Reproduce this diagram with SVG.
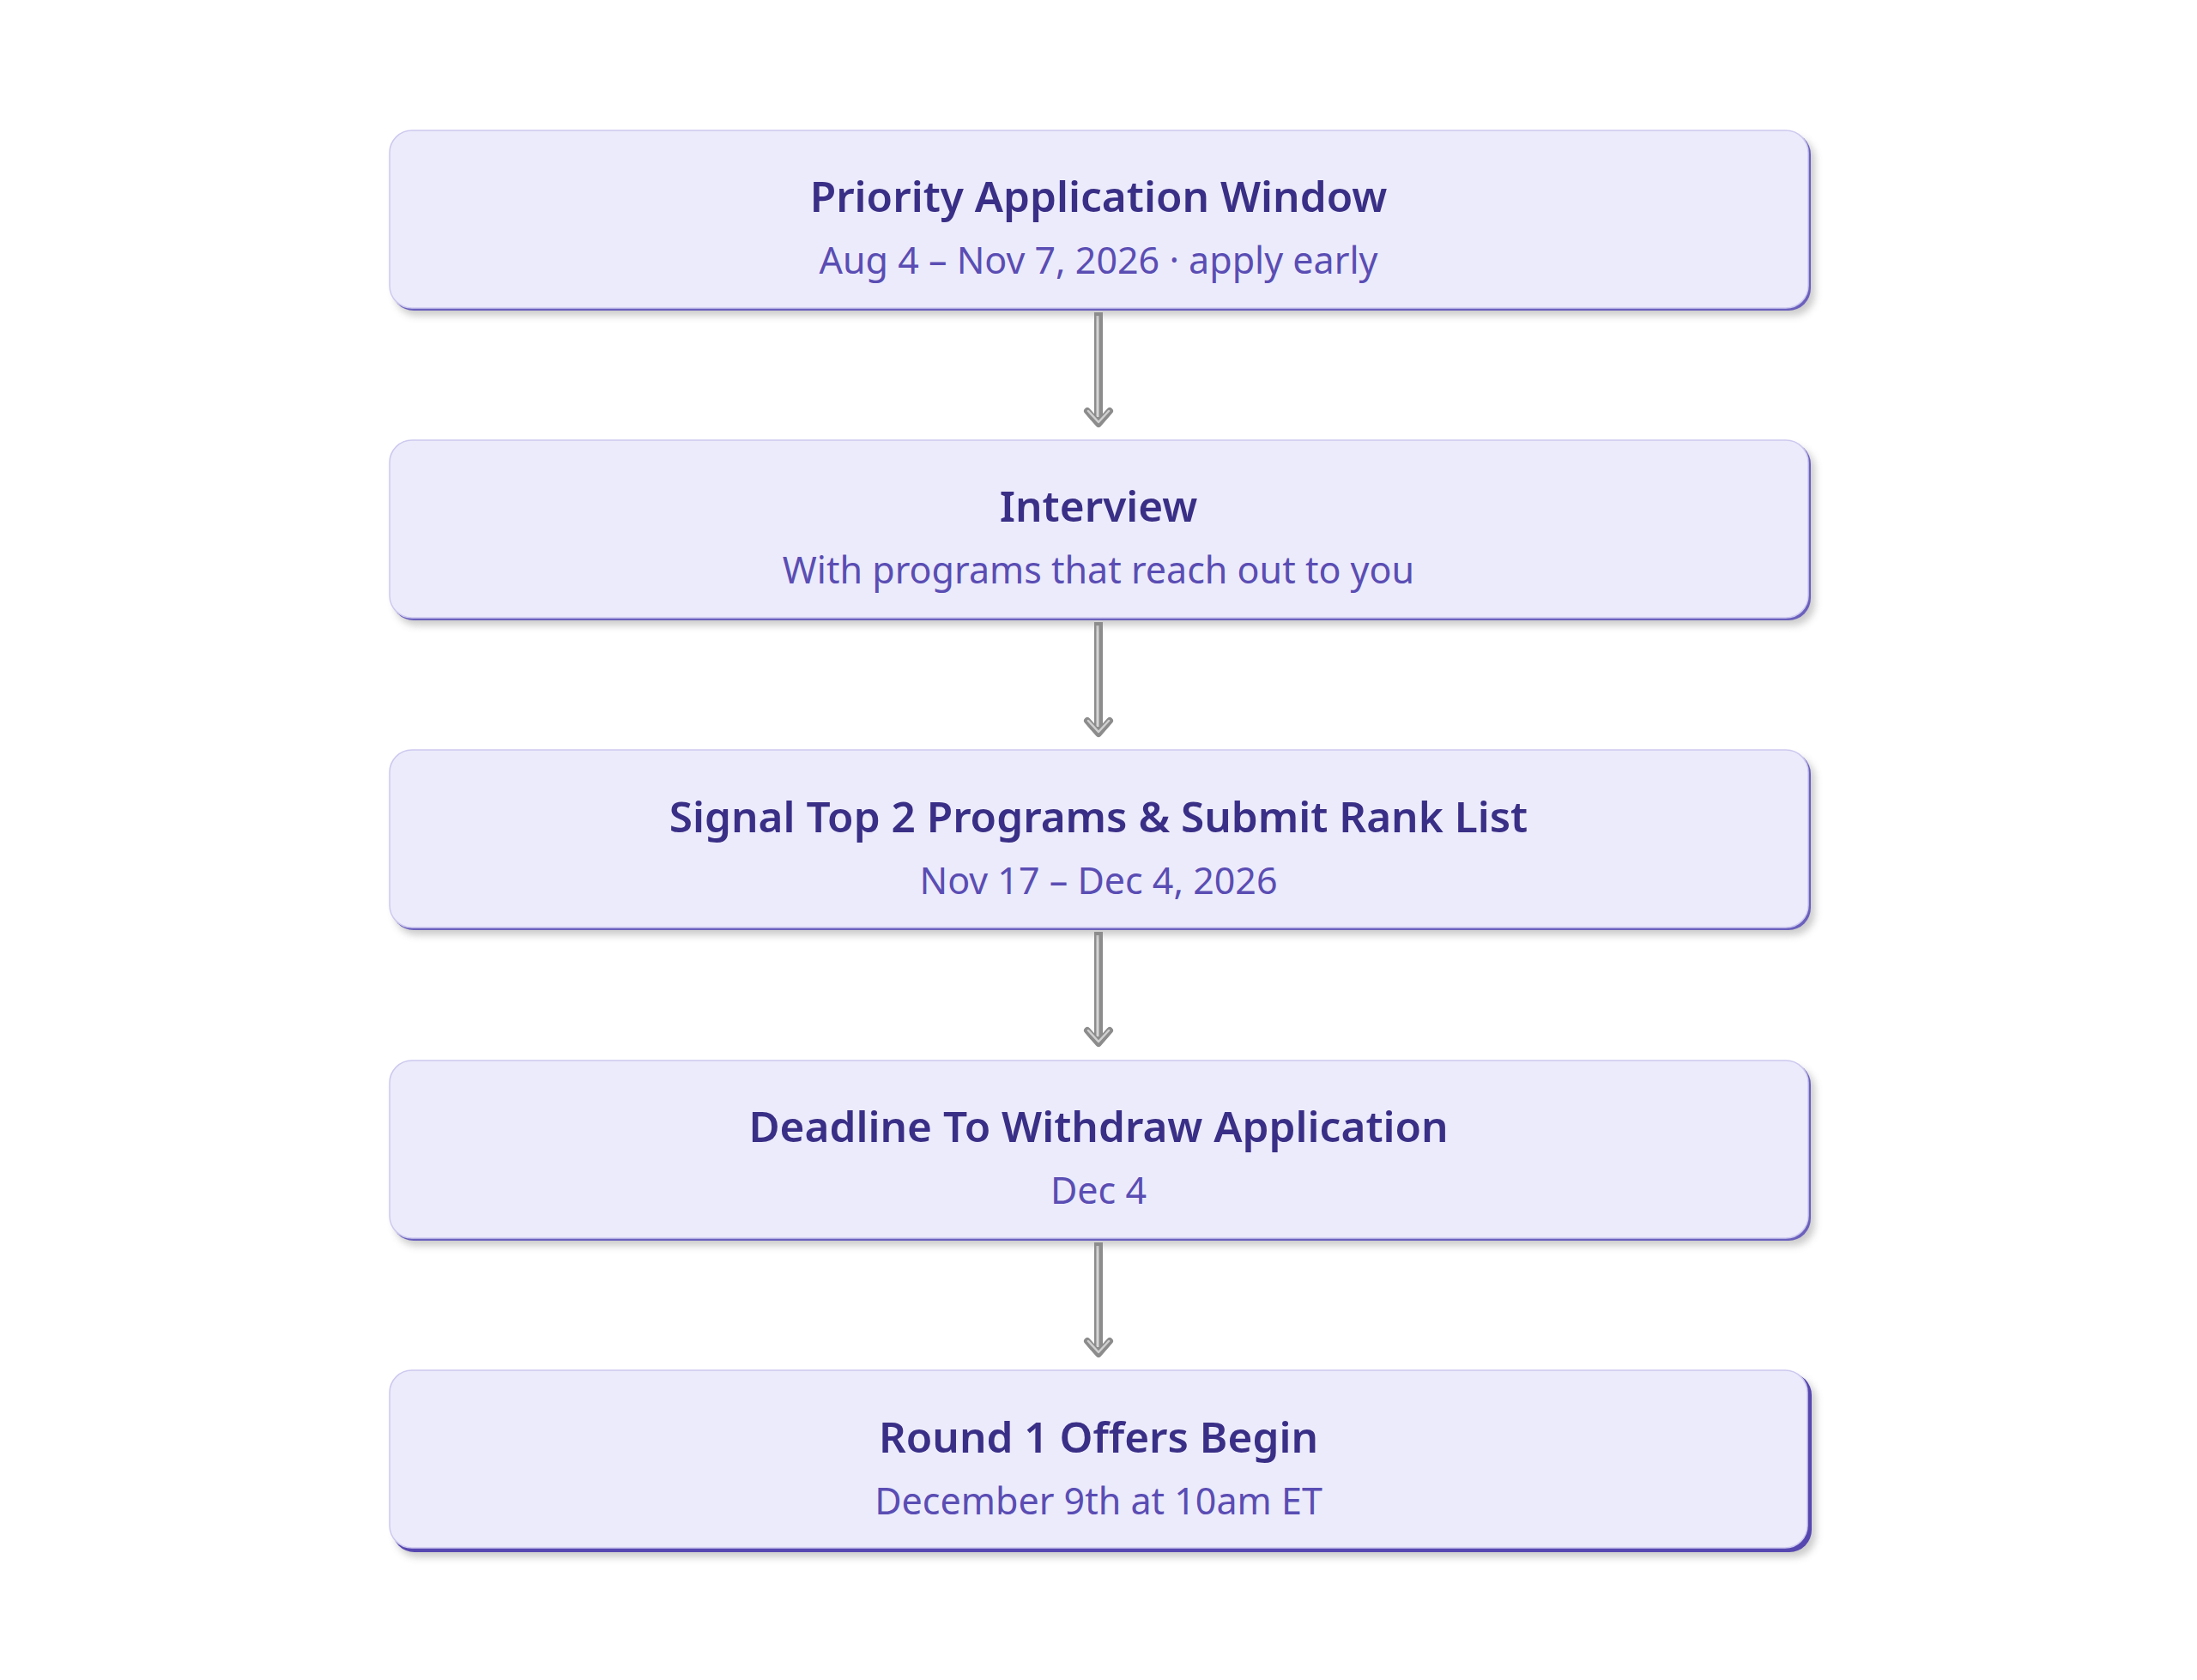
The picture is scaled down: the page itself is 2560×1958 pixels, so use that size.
<svg xmlns="http://www.w3.org/2000/svg" width="2560" height="1958" viewBox="0 0 2560 1958">
<defs>
<style>
.title{font-family:"Noto Sans","Open Sans","Liberation Sans",sans-serif;font-weight:600;font-size:49.5px;fill:#3a2f86;text-anchor:middle}
.sub{font-family:"Noto Sans","Open Sans","Liberation Sans",sans-serif;font-weight:400;font-size:43px;fill:#5a4db3;text-anchor:middle}
.card{fill:#ecebfb;stroke:#cdc9ef;stroke-width:1.5}
.edge{fill:#6b60bd}
.edge5{fill:#5647b0}
.shadow{fill:#8f8f8f;opacity:0.45;filter:url(#blur)}
.shaft{stroke:#8c8c8c;stroke-width:10;fill:none;stroke-linecap:butt}
.shine{stroke:#d6d6d6;stroke-width:3;fill:none}
.head{stroke:#8c8c8c;stroke-width:8;fill:none;stroke-linejoin:round;stroke-linecap:round}
.headshine{stroke:#d0d0d0;stroke-width:2.5;fill:none;stroke-linejoin:round;stroke-linecap:round}
</style>
<filter id="blur" x="-5%" y="-20%" width="110%" height="140%"><feGaussianBlur stdDeviation="4"/></filter>
<filter id="ablur" x="-100%" y="-10%" width="300%" height="120%"><feGaussianBlur stdDeviation="2.5"/></filter>
</defs>
<rect width="2560" height="1958" fill="#ffffff"/>

<g id="connectors">
  <g>
    <path class="shaft" d="M1280 364 V492" filter="url(#ablur)" opacity="0.5"/>
    <path class="shaft" d="M1280 364 V492"/>
    <path class="shine" d="M1279 368 V486"/>
    <path class="head" d="M1267 479 L1280 494 L1293 479"/>
    <path class="headshine" d="M1268 479 L1280 492 L1292 479"/>
  </g>
  <g>
    <path class="shaft" d="M1280 725 V853" filter="url(#ablur)" opacity="0.5"/>
    <path class="shaft" d="M1280 725 V853"/>
    <path class="shine" d="M1279 729 V847"/>
    <path class="head" d="M1267 840 L1280 855 L1293 840"/>
    <path class="headshine" d="M1268 840 L1280 853 L1292 840"/>
  </g>
  <g>
    <path class="shaft" d="M1280 1086 V1214" filter="url(#ablur)" opacity="0.5"/>
    <path class="shaft" d="M1280 1086 V1214"/>
    <path class="shine" d="M1279 1090 V1208"/>
    <path class="head" d="M1267 1201 L1280 1216 L1293 1201"/>
    <path class="headshine" d="M1268 1201 L1280 1214 L1292 1201"/>
  </g>
  <g>
    <path class="shaft" d="M1280 1448 V1576" filter="url(#ablur)" opacity="0.5"/>
    <path class="shaft" d="M1280 1448 V1576"/>
    <path class="shine" d="M1279 1452 V1570"/>
    <path class="head" d="M1267 1563 L1280 1578 L1293 1563"/>
    <path class="headshine" d="M1268 1563 L1280 1576 L1292 1563"/>
  </g>
</g>

<g id="node1">
  <rect class="shadow" x="460" y="160" width="1655" height="208" rx="26"/>
  <rect class="edge" x="456" y="154" width="1654" height="208" rx="26"/>
  <rect class="card" x="454" y="152" width="1653" height="207" rx="26"/>
  <text class="title" x="1280" y="247">Priority Application Window</text>
  <text class="sub" x="1280" y="319">Aug 4 – Nov 7, 2026 · apply early</text>
</g>

<g id="node2">
  <rect class="shadow" x="460" y="521" width="1655" height="208" rx="26"/>
  <rect class="edge" x="456" y="515" width="1654" height="208" rx="26"/>
  <rect class="card" x="454" y="513" width="1653" height="207" rx="26"/>
  <text class="title" x="1280" y="608">Interview</text>
  <text class="sub" x="1280" y="680">With programs that reach out to you</text>
</g>

<g id="node3">
  <rect class="shadow" x="460" y="882" width="1655" height="208" rx="26"/>
  <rect class="edge" x="456" y="876" width="1654" height="208" rx="26"/>
  <rect class="card" x="454" y="874" width="1653" height="207" rx="26"/>
  <text class="title" x="1280" y="970">Signal Top 2 Programs &amp; Submit Rank List</text>
  <text class="sub" x="1280" y="1042">Nov 17 – Dec 4, 2026</text>
</g>

<g id="node4">
  <rect class="shadow" x="460" y="1244" width="1655" height="208" rx="26"/>
  <rect class="edge" x="456" y="1238" width="1654" height="208" rx="26"/>
  <rect class="card" x="454" y="1236" width="1653" height="207" rx="26"/>
  <text class="title" x="1280" y="1331">Deadline To Withdraw Application</text>
  <text class="sub" x="1280" y="1403">Dec 4</text>
</g>

<g id="node5">
  <rect class="shadow" x="461" y="1606" width="1655" height="209" rx="26"/>
  <rect class="edge5" x="457" y="1600" width="1654" height="209" rx="26"/>
  <rect class="card" x="454" y="1597" width="1652" height="207" rx="26"/>
  <text class="title" x="1280" y="1693">Round 1 Offers Begin</text>
  <text class="sub" x="1280" y="1765">December 9th at 10am ET</text>
</g>
</svg>
